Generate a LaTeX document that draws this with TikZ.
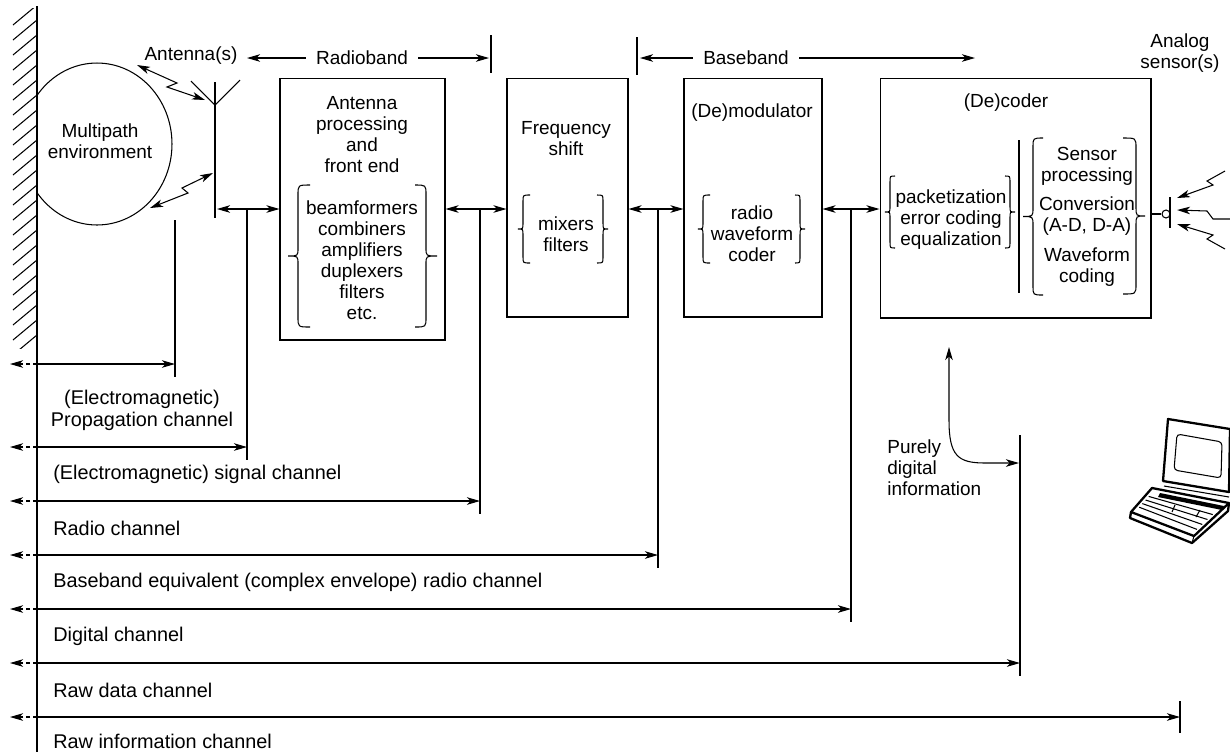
\documentclass[tikz,border=0pt]{standalone}
\usepackage{fontspec}
\setmainfont{Liberation Sans}
\usetikzlibrary{arrows.meta,calc}

% curly brace: #1 end x, #2 body x, #3 tip x, #4 top y, #5 bottom y, #6 end curl, #7 tip curl
\newcommand{\curlybrace}[7]{%
  \draw[line] (#1,#4) .. controls (#2,#4) .. (#2,#4+#6)
    -- (#2,{(#4+#5)/2-#7}) .. controls (#2,{(#4+#5)/2}) .. (#3,{(#4+#5)/2})
    .. controls (#2,{(#4+#5)/2}) .. (#2,{(#4+#5)/2+#7})
    -- (#2,#5-#6) .. controls (#2,#5) .. (#1,#5);}

\begin{document}
\begin{tikzpicture}[x=0.02cm, y=-0.02cm,
  >={Stealth[length=0.26cm,width=0.15cm,inset=0.07cm]},
  line/.style={line width=0.6pt},
  box/.style={draw, line width=0.6pt, inner sep=0pt},
  every node/.style={font=\fontsize{10.8}{11.95}\selectfont, inner sep=0pt, align=center},
  chan/.style={anchor=west, font=\fontsize{11.3}{12.4}\selectfont},
  stub/.style={line width=0.6pt, dash pattern=on 0.08cm off 0.06cm, ->},
  lapline/.style={line width=1.3pt, line join=round},
]
\useasboundingbox (0,0) rectangle (1230,752);

% ---------- wall with hatching ----------
\draw[line] (37,6) -- (37,752);
\begin{scope}
  \clip (10,8) rectangle (37,348);
  \foreach \y in {25,40,...,370} \draw[line] (13,\y) -- (37,\y-20);
\end{scope}

% ---------- multipath environment ----------
\begin{scope}
  \clip (37,0) rectangle (300,300);
  \draw[line] (97,144) ellipse [x radius=1.5cm, y radius=1.62cm];
\end{scope}
\node (mp) at (100,141) {Multipath\\environment};

% ---------- antenna ----------
\draw[line] (215,82) -- (215,218);
\draw[line] (191,81) -- (215,105) -- (240,80);
\node (antl) at (191,56) {Antenna(s)};
\draw[line,<->] (137,65) -- (177,83) -- (167,87) -- (205,100);
\draw[line,<->] (150,208) -- (188,193) -- (182,188) -- (213,173);

% ---------- band markers ----------
\node[inner xsep=0.2cm] (rb) at (362,58) {Radioband};
\coordinate (rbl) at (247,58);
\coordinate (rbr) at (489,58);
\draw[line,->] (rb.west) -- (rbl);
\draw[line,->] (rb.east) -- (rbr);
\draw[line] (491,35) -- (491,73);

\node[inner xsep=0.2cm] (bb) at (746,58) {Baseband};
\coordinate (bbl) at (640,58);
\coordinate (bbr) at (975,58);
\draw[line] (637,37) -- (637,75);
\draw[line,->] (bb.west) -- (bbl);
\draw[line,->] (bb.east) -- (bbr);

\node (anls) at (1180,53) {Analog\\sensor(s)};

% ---------- processing blocks ----------
\node[box, minimum width=3.3cm, minimum height=5.24cm] (fe) at (362.5,209) {};
\node[box, minimum width=2.42cm, minimum height=4.78cm] (fs) at (567.5,197.5) {};
\node[box, minimum width=2.76cm, minimum height=4.78cm] (dm) at (753,197.5) {};
\node[box, minimum width=5.42cm, minimum height=4.8cm] (dc) at (1015.5,198) {};

\node (fet) at (362,134.5) {Antenna\\processing\\and\\front end};
\node (fel) at (362,260) {beamformers\\combiners\\amplifiers\\duplexers\\filters\\etc.};
\curlybrace{310}{298}{288}{185}{327}{10}{8}
\curlybrace{415}{426}{437}{185}{327}{10}{8}

\node (fst) at (566,138.5) {Frequency\\shift};
\node (fsl) at (566,234) {mixers\\filters};
\curlybrace{530}{523}{518}{195}{263}{6}{6}
\curlybrace{597}{603}{608}{195}{263}{6}{6}

\node (dmt) at (752,113) {(De)modulator};
\node (dml) at (752,234) {radio\\waveform\\coder};
\curlybrace{710}{703}{698}{195}{263}{6}{6}
\curlybrace{795}{800}{805}{195}{263}{6}{6}

\node (dct) at (1006,103) {(De)coder};
\node (dcl) at (951,220) {packetization\\error coding\\equalization};
\curlybrace{895}{890}{885}{176}{248}{6}{5}
\curlybrace{1005}{1010}{1015}{176}{248}{6}{5}
\draw[line] (1019,140) -- (1019,293);
\curlybrace{1043}{1033}{1023}{138}{295}{9}{9}
\curlybrace{1123}{1136}{1145}{138}{294}{10}{9}
\node (sp1) at (1087,166) {Sensor\\processing};
\node (sp2) at (1087,216) {Conversion\\(A-D, D-A)};
\node (sp3) at (1087,267) {Waveform\\coding};

% ---------- analog sensor ----------
\node[circle, draw, line width=0.6pt, minimum size=0.16cm] (sc) at (1166,214) {};
\draw[line] (dc.east |- sc) -- (sc.west);
\draw[line] (1170,197) -- (1170,228);
\draw[line,->] (1225,171) -- (1207,181) -- (1213,185) -- (1177,198);
\draw[line,->] (1230,219) -- (1213,219) -- (1207,211) -- (1177,210);
\draw[line,->] (1225,249) -- (1207,239) -- (1213,235) -- (1177,224);

% ---------- links between blocks ----------
\coordinate (a0) at (217,209);
\draw[line,<->] (a0) -- (a0 -| fe.west);
\draw[line,<->] (fe.east |- a0) -- (fs.west |- a0);
\draw[line,<->] (fs.east |- a0) -- (dm.west |- a0);
\draw[line,<->] (dm.east |- a0) -- (dc.west |- a0);
\coordinate (t1) at (247,209);
\coordinate (t2) at (480,209);
\coordinate (t3) at (658,209);
\coordinate (t4) at (851,209);
\coordinate (t0) at (175,220);
\coordinate (t5) at (1020,435);
\coordinate (t6) at (1180,701);

% ---------- channel spans ----------
\coordinate (w1) at (37,364);
\coordinate (w2) at (37,447);
\coordinate (w3) at (37,501);
\coordinate (w4) at (37,555);
\coordinate (w5) at (37,609);
\coordinate (w6) at (37,663);
\coordinate (w7) at (37,717);

\draw[line] (t0) -- ($(w1 -| t0)+(0,13)$);
\draw[line] (t1) -- ($(w2 -| t1)+(0,13)$);
\draw[line] (t2) -- ($(w3 -| t2)+(0,13)$);
\draw[line] (t3) -- ($(w4 -| t3)+(0,13)$);
\draw[line] (t4) -- ($(w5 -| t4)+(0,13)$);
\draw[line] (t5) -- ($(w6 -| t5)+(0,13)$);
\draw[line] (t6) -- ($(w7 -| t6)+(0,16)$);

\foreach \w/\t in {w1/t0, w2/t1, w3/t2, w4/t3, w5/t4, w6/t5, w7/t6} {
  \draw[line,->] (\w) -- (\w -| \t);
  \draw[stub] (\w) -- ++(-27,0);
}

\node[font=\fontsize{11.3}{12.4}\selectfont] (c1) at (142,410.5) {(Electromagnetic)\\Propagation channel};
\node[chan] (c2) at (53,474) {(Electromagnetic) signal channel};
\node[chan] (c3) at (53,528) {Radio channel};
\node[chan] (c4) at (53,582) {Baseband equivalent (complex envelope) radio channel};
\node[chan] (c5) at (53,636) {Digital channel};
\node[chan] (c6) at (53,690) {Raw data channel};
\node[chan] (c7) at (53,741) {Raw information channel};

% ---------- purely digital information ----------
\node[anchor=west, align=left] (pd) at (887,468) {Purely\\digital\\information};
\coordinate (pdtop) at (949,347);
\coordinate (pdend) at (1019,463);
\draw[line,<->] (pdtop) -- (949,420) .. controls (949,456) and (958,463) .. (985,463) -- (pdend);

% ---------- laptop ----------
\draw[lapline] (1168,419) -- (1230,429) -- (1229,492) -- (1163,481) -- cycle;
\draw[line, rounded corners=2pt] (1177,434) -- (1222,442) -- (1221,478) -- (1174,470) -- cycle;
\draw[line] (1164,486) -- (1229,497);
\draw[lapline] (1152,488) -- (1229,503) -- (1194,536) -- (1131,512) -- cycle;
\draw[lapline] (1131,512) -- (1130,518) -- (1192,543) -- (1228,511) -- (1229,503);
\draw[line] (1194,536) -- (1192,543);
\fill (1160,493) -- (1224,506) -- (1222,510) -- (1158,497) -- cycle;
\foreach \t in {0.35,0.5,0.65,0.8}
  \draw[line] ($(1152,488)!\t!(1131,512)+(4,0)$) -- ($(1229,503)!\t!(1194,536)+(-4,0)$);
\draw[line] (1175,505) -- (1172,512);
\draw[line] (1200,510) -- (1196,517);
\end{tikzpicture}
\end{document}
